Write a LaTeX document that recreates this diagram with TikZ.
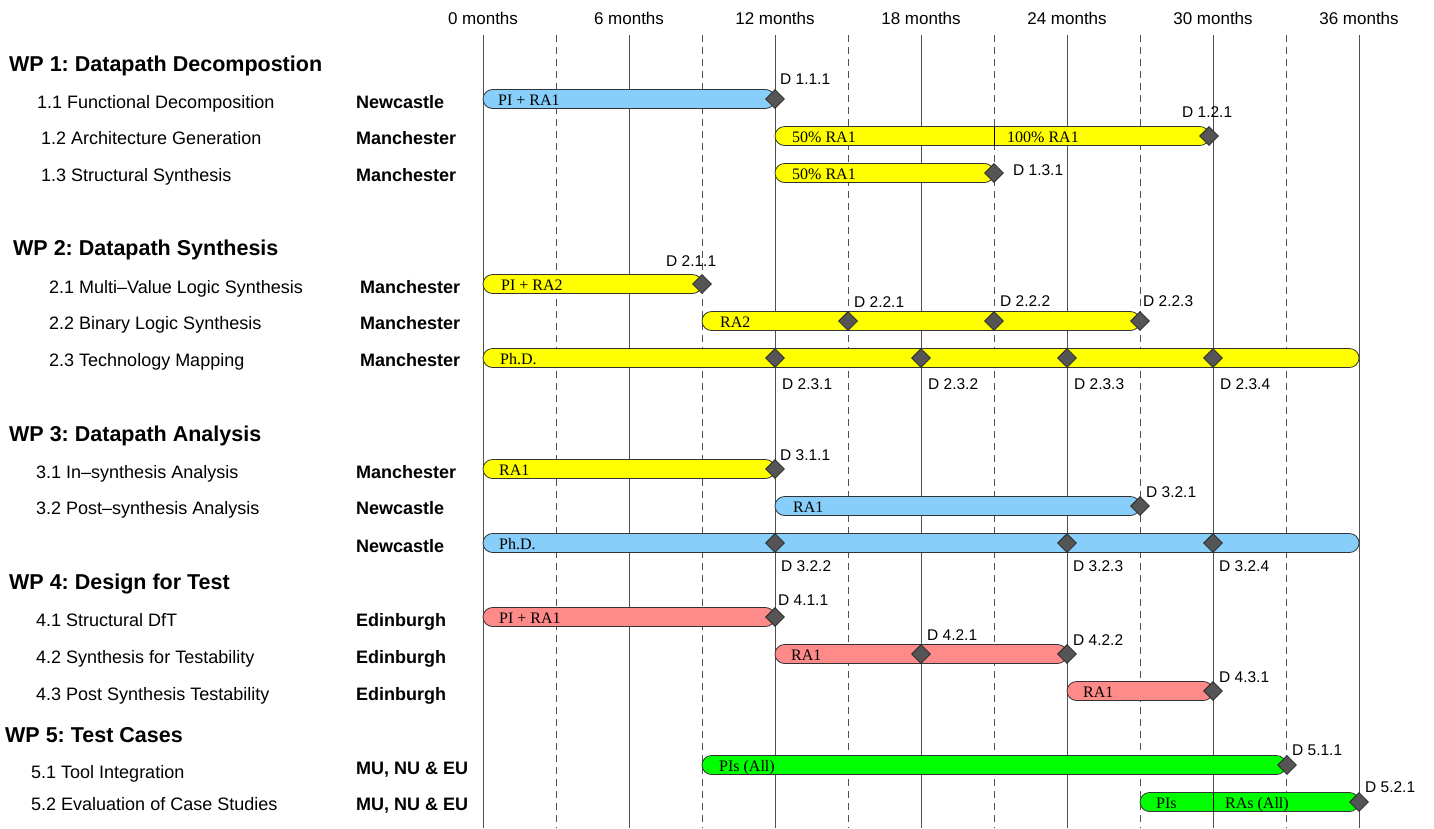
\documentclass[tikz,border=0pt]{standalone}
\usepackage{fontspec}
\setmainfont{Liberation Sans}
\newfontfamily\serifbar{Liberation Serif}
\usetikzlibrary{shapes.geometric}
\frenchspacing
\definecolor{wpblue}{RGB}{135,206,250}
\definecolor{wppink}{RGB}{255,138,138}
\definecolor{wpyellow}{RGB}{255,255,0}
\definecolor{wpgreen}{RGB}{0,255,0}
\definecolor{msfill}{RGB}{85,85,85}
\definecolor{gridc}{RGB}{80,80,80}
\tikzset{
  gridsolid/.style={draw=gridc, line width=0.9pt},
  griddash/.style={draw=gridc, line width=0.9pt, dash pattern=on 7pt off 5pt},
  monthlbl/.style={font=\fontsize{17}{19}\selectfont, anchor=base, inner sep=0pt},
  wphead/.style={font=\fontsize{21.5}{24}\selectfont\bfseries, anchor=base west, inner sep=0pt},
  tasklbl/.style={font=\fontsize{18}{20}\selectfont, anchor=base west, inner sep=0pt},
  instlbl/.style={font=\fontsize{18}{20}\selectfont\bfseries, anchor=base west, inner sep=0pt},
  barbox/.style={draw=black!80, line width=0.8pt, rounded corners=9.5pt},
  bartext/.style={font=\fontsize{16}{18}\selectfont\serifbar, anchor=base west, inner sep=0pt},
  milestone/.style={diamond, draw=black!85, line width=0.8pt, fill=msfill, minimum width=19pt, minimum height=19pt, inner sep=0pt},
  dlbl/.style={font=\fontsize{15.5}{17}\selectfont, anchor=base west, inner sep=0pt},
}
% #1 y centre, #2 start month, #3 end month, #4 colour
\newcommand\ganttbar[4]{%
  \draw[barbox, fill=#4] ({483+24.3333*#2},#1-9.5) rectangle ({483+24.3333*#3},#1+9.5);}
\begin{document}
\begin{tikzpicture}[x=1pt,y=-1pt]
\useasboundingbox (0,0) rectangle (1434,828);
% grid
\foreach \m in {0,6,...,36}{\draw[gridsolid] ({483+24.3333*\m},35) -- ({483+24.3333*\m},828);}
\foreach \m in {3,9,...,33}{\draw[griddash] ({483+24.3333*\m},35) -- ({483+24.3333*\m},828);}
% month labels
\foreach \m in {0,6,...,36}{\node[monthlbl] (mon\m) at ({483+24.3333*\m},24) {\m{} months};}

% left column
\node[wphead] (wp1) at (9,71) {WP 1: Datapath Decompostion};
\node[tasklbl] (t11) at (37,108) {1.1 Functional Decomposition};
\node[tasklbl] (t12) at (41,144.5) {1.2 Architecture Generation};
\node[tasklbl] (t13) at (41,181.5) {1.3 Structural Synthesis};
\node[instlbl] (i11) at (356,108) {Newcastle};
\node[instlbl] (i12) at (356,144.5) {Manchester};
\node[instlbl] (i13) at (356,181.5) {Manchester};

\node[wphead] (wp2) at (13,255.5) {WP 2: Datapath Synthesis};
\node[tasklbl] (t21) at (49,293) {2.1 Multi\textendash Value Logic Synthesis};
\node[tasklbl] (t22) at (49,329.5) {2.2 Binary Logic Synthesis};
\node[tasklbl] (t23) at (49,366.5) {2.3 Technology Mapping};
\node[instlbl] (i21) at (360,293) {Manchester};
\node[instlbl] (i22) at (360,329.5) {Manchester};
\node[instlbl] (i23) at (360,366.5) {Manchester};

\node[wphead] (wp3) at (9,441.5) {WP 3: Datapath Analysis};
\node[tasklbl] (t31) at (36,478) {3.1 In\textendash synthesis Analysis};
\node[tasklbl] (t32) at (36,514.5) {3.2 Post\textendash synthesis Analysis};
\node[instlbl] (i31) at (356,478) {Manchester};
\node[instlbl] (i32) at (356,514.5) {Newcastle};
\node[instlbl] (i33) at (356,552) {Newcastle};

\node[wphead] (wp4) at (9,589.5) {WP 4: Design for Test};
\node[tasklbl] (t41) at (36,626.5) {4.1 Structural DfT};
\node[tasklbl] (t42) at (36,663.5) {4.2 Synthesis for Testability};
\node[tasklbl] (t43) at (36,700.5) {4.3 Post Synthesis Testability};
\node[instlbl] (i41) at (356,626.5) {Edinburgh};
\node[instlbl] (i42) at (356,663.5) {Edinburgh};
\node[instlbl] (i43) at (356,700.5) {Edinburgh};

\node[wphead] (wp5) at (5,742) {WP 5: Test Cases};
\node[tasklbl] (t51) at (31,778.5) {5.1 Tool Integration};
\node[tasklbl] (t52) at (31,810.5) {5.2 Evaluation of Case Studies};
\node[instlbl] (i51) at (356,774) {MU, NU \& EU};
\node[instlbl] (i52) at (356,810.5) {MU, NU \& EU};

% bars
\ganttbar{99}{0}{12}{wpblue}
\node[bartext] (b11) at (498,105) {PI + RA1};
\ganttbar{136}{12}{29.85}{wpyellow}
\draw[black, line width=0.9pt] (994,126.5) -- (994,145.5);
\node[bartext] (b12a) at (792,142) {50\% RA1};
\node[bartext] (b12b) at (1007,142) {100\% RA1};
\ganttbar{173}{12}{21}{wpyellow}
\node[bartext] (b13) at (792,179) {50\% RA1};

\ganttbar{284}{0}{9}{wpyellow}
\node[bartext] (b21) at (501,290) {PI + RA2};
\ganttbar{321}{9}{27}{wpyellow}
\node[bartext] (b22) at (720,327) {RA2};
\ganttbar{358}{0}{36}{wpyellow}
\node[bartext] (b23) at (500,364) {Ph.D.};

\ganttbar{469}{0}{12}{wpyellow}
\node[bartext] (b31) at (499,475) {RA1};
\ganttbar{506}{12}{27}{wpblue}
\node[bartext] (b32) at (793,512) {RA1};
\ganttbar{543}{0}{36}{wpblue}
\node[bartext] (b33) at (499,549) {Ph.D.};

\ganttbar{617}{0}{12}{wppink}
\node[bartext] (b41) at (499,623) {PI + RA1};
\ganttbar{654}{12}{24}{wppink}
\node[bartext] (b42) at (791,660) {RA1};
\ganttbar{691}{24}{30}{wppink}
\node[bartext] (b43) at (1083,697) {RA1};

\ganttbar{765}{9}{33}{wpgreen}
\node[bartext] (b51) at (719,771) {PIs (All)};
\ganttbar{802}{27}{36}{wpgreen}
\draw[black, line width=0.9pt] (1213,792.5) -- (1213,811.5);
\node[bartext] (b52a) at (1156,808) {PIs};
\node[bartext] (b52b) at (1225,808) {RAs (All)};

% milestones
\node[milestone] (m111) at (775,99) {};
\node[milestone] (m121) at (1209,136) {};
\node[milestone] (m131) at (994,173) {};
\node[milestone] (m211) at (702,284) {};
\node[milestone] (m221) at (848,321) {};
\node[milestone] (m222) at (994,321) {};
\node[milestone] (m223) at (1140,321) {};
\node[milestone] (m231) at (775,358) {};
\node[milestone] (m232) at (921,358) {};
\node[milestone] (m233) at (1067,358) {};
\node[milestone] (m234) at (1213,358) {};
\node[milestone] (m311) at (775,469) {};
\node[milestone] (m321) at (1140,506) {};
\node[milestone] (m322) at (775,543) {};
\node[milestone] (m323) at (1067,543) {};
\node[milestone] (m324) at (1213,543) {};
\node[milestone] (m411) at (775,617) {};
\node[milestone] (m421) at (921,654) {};
\node[milestone] (m422) at (1067,654) {};
\node[milestone] (m431) at (1213,691) {};
\node[milestone] (m511) at (1287,765) {};
\node[milestone] (m521) at (1359,802) {};

% deliverable labels
\node[dlbl] (d111) at (780,84.5) {D 1.1.1};
\node[dlbl] (d121) at (1182,117) {D 1.2.1};
\node[dlbl] (d131) at (1013,175) {D 1.3.1};
\node[dlbl] (d211) at (666,266) {D 2.1.1};
\node[dlbl] (d221) at (854,307) {D 2.2.1};
\node[dlbl] (d222) at (1000,306) {D 2.2.2};
\node[dlbl] (d223) at (1143,306) {D 2.2.3};
\node[dlbl] (d231) at (782,389) {D 2.3.1};
\node[dlbl] (d232) at (928,389) {D 2.3.2};
\node[dlbl] (d233) at (1074,389) {D 2.3.3};
\node[dlbl] (d234) at (1220,389) {D 2.3.4};
\node[dlbl] (d311) at (780,460.5) {D 3.1.1};
\node[dlbl] (d321) at (1146,497) {D 3.2.1};
\node[dlbl] (d322) at (781,571.5) {D 3.2.2};
\node[dlbl] (d323) at (1073,571.5) {D 3.2.3};
\node[dlbl] (d324) at (1219,571.5) {D 3.2.4};
\node[dlbl] (d411) at (778,605) {D 4.1.1};
\node[dlbl] (d421) at (927,640.5) {D 4.2.1};
\node[dlbl] (d422) at (1073,645) {D 4.2.2};
\node[dlbl] (d431) at (1219,682) {D 4.3.1};
\node[dlbl] (d511) at (1292,755) {D 5.1.1};
\node[dlbl] (d521) at (1365,792) {D 5.2.1};
\end{tikzpicture}
\end{document}
